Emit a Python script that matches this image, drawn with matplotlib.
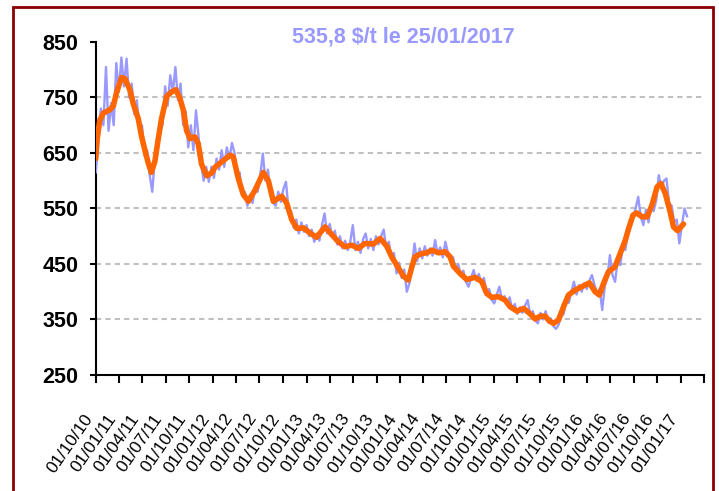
import matplotlib
matplotlib.use('Agg')
import matplotlib.pyplot as plt
from matplotlib.patches import Rectangle
from matplotlib.transforms import ScaledTranslation
import pandas as pd

plt.rcParams['font.family'] = ['Liberation Sans', 'DejaVu Sans']

# cours journalier (relevé tous les ~10 jours)
blue_start = '2010-10-01'
blue_end = '2017-01-25'
blue_vals = [
    615, 665, 730, 700, 805, 690, 740, 700, 812, 760,
    822, 770, 820, 750, 775, 720, 745, 690, 700, 645,
    655, 610, 580, 640, 650, 705, 700, 770, 735, 790,
    760, 805, 745, 775, 700, 725, 660, 700, 655, 727,
    680, 630, 600, 625, 598, 625, 605, 640, 620, 655,
    625, 660, 640, 668, 650, 610, 615, 575, 580, 555,
    575, 560, 590, 580, 610, 649, 600, 620, 578, 560,
    555, 580, 562, 585, 598, 548, 545, 515, 530, 505,
    525, 508, 520, 500, 512, 490, 505, 492, 520, 541,
    505, 522, 498, 510, 485, 500, 478, 492, 475, 490,
    520, 475, 490, 470, 495, 505, 478, 495, 475, 500,
    485, 500, 512, 478, 490, 460, 470, 433, 452, 425,
    440, 400, 415, 448, 487, 455, 478, 460, 482, 465,
    478, 465, 493, 468, 480, 462, 490, 470, 458, 462,
    440, 450, 428, 438, 418, 409, 425, 439, 420, 432,
    415, 425, 398, 405, 385, 379, 395, 409, 385, 392,
    378, 390, 368, 378, 360, 372, 362, 375, 385, 358,
    365, 348, 343, 362, 350, 365, 345, 352, 338, 333,
    340, 355, 360, 385, 380, 400, 418, 395, 412, 400,
    415, 405, 420, 430, 412, 398, 405, 367, 410, 425,
    466, 430, 418, 455, 448, 480, 475, 505, 520, 535,
    550, 571, 535, 520, 548, 525, 556, 545, 565, 610,
    585, 600, 604, 560, 555, 525, 530, 487, 520, 550, 536,
]

# moyenne mobile
orange_dates = [
    '2010-10-01', '2010-10-06', '2010-10-17', '2010-10-31', '2010-11-26', '2010-12-09',
    '2010-12-22', '2011-01-10', '2011-01-23', '2011-02-12', '2011-02-25', '2011-03-16',
    '2011-03-29', '2011-04-11', '2011-04-24', '2011-05-06', '2011-05-20', '2011-06-02',
    '2011-06-15', '2011-07-05', '2011-07-24', '2011-08-10', '2011-08-26', '2011-09-08',
    '2011-09-21', '2011-10-04', '2011-10-23', '2011-11-05', '2011-11-18', '2011-12-08',
    '2011-12-28', '2012-01-09', '2012-02-05', '2012-03-08', '2012-03-21', '2012-04-09',
    '2012-04-29', '2012-05-19', '2012-06-14', '2012-07-16', '2012-08-05', '2012-08-24',
    '2012-09-26', '2012-10-15', '2012-11-04', '2012-11-24', '2012-12-20', '2013-01-14',
    '2013-02-09', '2013-03-14', '2013-04-09', '2013-05-05', '2013-05-31', '2013-06-26',
    '2013-07-22', '2013-08-17', '2013-09-19', '2013-10-15', '2013-11-10', '2013-11-30',
    '2013-12-19', '2014-01-14', '2014-02-02', '2014-02-16', '2014-02-28', '2014-03-27',
    '2014-04-15', '2014-05-05', '2014-05-31', '2014-06-26', '2014-07-15', '2014-07-28',
    '2014-08-23', '2014-09-18', '2014-10-21', '2014-11-16', '2014-12-05', '2014-12-25',
    '2015-01-20', '2015-02-15', '2015-03-06', '2015-04-02', '2015-04-28', '2015-05-24',
    '2015-06-12', '2015-07-02', '2015-07-21', '2015-08-07', '2015-08-23', '2015-09-11',
    '2015-10-01', '2015-10-20', '2015-11-15', '2015-12-11', '2016-01-10', '2016-02-01',
    '2016-02-18', '2016-03-05', '2016-03-24', '2016-04-19', '2016-05-09', '2016-05-29',
    '2016-06-11', '2016-06-28', '2016-07-13', '2016-08-02', '2016-08-22', '2016-09-10',
    '2016-09-30', '2016-10-15', '2016-11-01', '2016-11-20', '2016-12-03', '2016-12-19',
    '2017-01-11',
]
orange_vals = [
    640, 673, 709, 722, 728, 735, 760, 786, 784, 763, 738, 712,
    680, 655, 632, 615, 635, 675, 712, 752, 760, 764, 748, 727,
    690, 676, 679, 667, 630, 609, 614, 624, 634, 646, 643, 605,
    575, 563, 583, 615, 600, 563, 572, 560, 530, 514, 515, 506,
    498, 517, 503, 490, 481, 484, 478, 487, 486, 496, 482, 462,
    448, 428, 421, 445, 463, 469, 470, 475, 470, 472, 463, 446,
    433, 422, 426, 418, 397, 390, 391, 385, 373, 365, 370, 360,
    351, 356, 356, 347, 343, 349, 373, 394, 403, 409, 416, 400,
    394, 415, 436, 445, 469, 493, 514, 538, 542, 535, 535, 556,
    589, 595, 577, 544, 517, 510, 522,
]

y_ticks = [250, 350, 450, 550, 650, 750, 850]
title = '535,8 $/t le 25/01/2017'

blue_dates = pd.date_range(blue_start, blue_end, periods=len(blue_vals))
orange_dt = pd.to_datetime(orange_dates)
x_ticks = pd.date_range('2010-10-01', '2017-04-01', freq='3MS')
x_labels = [d.strftime('%d/%m/%y') for d in x_ticks[:-1]] + ['']

fig = plt.figure(figsize=(7.19, 4.91), dpi=100)
fig.patch.set_facecolor('white')
ax = fig.add_axes([0.1331, 0.2363, 0.8460, 0.6782])

# cadre rouge
fig.patches.append(Rectangle((13 / 719, -0.2), 700 / 719, 1.2 - 7 / 491,
                             transform=fig.transFigure, fill=False,
                             edgecolor='#8B0000', linewidth=2))

ax.plot(blue_dates, blue_vals, color='#9999FF', linewidth=1.7, zorder=3)
ax.plot(orange_dt, orange_vals, color='#FF6600', linewidth=4,
        solid_capstyle='round', solid_joinstyle='round', zorder=4)

ax.set_ylim(250, 850)
ax.set_yticks(y_ticks)
ax.set_xlim(x_ticks[0], x_ticks[-1])
ax.set_xticks(x_ticks)
ax.set_xticklabels(x_labels)

ax.yaxis.grid(True, color='#C0C0C0', linestyle=(0, (2.5, 2)), linewidth=1.5)
ax.set_axisbelow(True)
glines = ax.get_ygridlines()
glines[0].set_visible(False)
glines[-1].set_visible(False)

for side in ['top', 'right']:
    ax.spines[side].set_visible(False)
for side in ['left', 'bottom']:
    ax.spines[side].set_linewidth(1.5)
    ax.spines[side].set_color('black')

ax.tick_params(axis='y', length=4.5, width=1.5, pad=8, labelsize=15.5)
ax.tick_params(axis='x', length=6, width=1.5, pad=20, labelsize=12.5)
for lab in ax.get_yticklabels():
    lab.set_fontweight('bold')
for lab in ax.get_xticklabels():
    lab.set_rotation(55)
    lab.set_ha('right')
    lab.set_va('top')
    lab.set_rotation_mode('anchor')
    lab.set_transform(lab.get_transform() + ScaledTranslation(-9 / 72, 0, fig.dpi_scale_trans))

fig.text(0.5605, 0.9246, title, ha='center', va='center', fontsize=15.5,
         fontweight='bold', color='#9999FF')

fig.savefig('out.png', dpi=100, facecolor='white')
plt.close(fig)
